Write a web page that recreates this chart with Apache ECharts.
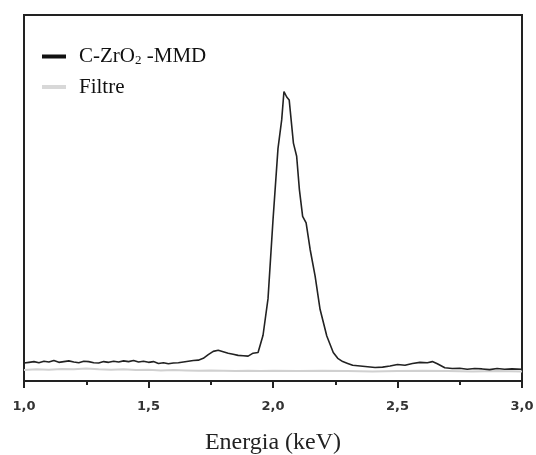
<!DOCTYPE html>
<html>
<head>
<meta charset="utf-8">
<script src="https://cdn.jsdelivr.net/npm/echarts@6/dist/echarts.min.js"></script>
<style>
  html, body { margin: 0; padding: 0; background: #fff; }
  #chart { width: 536px; height: 455px; }
</style>
</head>
<body>
<div id="chart"></div>
<script>
// energia (keV) e intensità (unità arbitrarie)
var sampleEnergy = [
  1.00, 1.02, 1.04, 1.06, 1.08, 1.10, 1.12, 1.14, 1.16, 1.18,
  1.20, 1.22, 1.24, 1.26, 1.28, 1.30, 1.32, 1.34, 1.36, 1.38,
  1.40, 1.42, 1.44, 1.46, 1.48, 1.50, 1.52, 1.54, 1.56, 1.58,
  1.60, 1.62, 1.64, 1.66, 1.68, 1.70, 1.72, 1.74, 1.76, 1.78,
  1.80, 1.82, 1.84, 1.86, 1.88, 1.90, 1.92, 1.94, 1.96, 1.98,
  2.00, 2.02, 2.035, 2.044, 2.055, 2.065, 2.082, 2.095, 2.106, 2.119,
  2.133, 2.149, 2.169, 2.189, 2.216, 2.242, 2.26, 2.28, 2.30, 2.32,
  2.35, 2.38, 2.41, 2.44, 2.47, 2.50, 2.53, 2.56, 2.59, 2.62,
  2.64, 2.66, 2.69, 2.72, 2.75, 2.78, 2.81, 2.84, 2.87, 2.90,
  2.93, 2.96, 3.00
];
var sampleValue = [
  4.9, 5.1, 5.3, 5.0, 5.4, 5.2, 5.6, 5.1, 5.3, 5.5,
  5.2, 5.0, 5.4, 5.3, 5.0, 4.9, 5.3, 5.1, 5.4, 5.2,
  5.5, 5.3, 5.6, 5.2, 5.4, 5.1, 5.3, 4.8, 5.0, 4.7,
  4.9, 5.0, 5.2, 5.4, 5.6, 5.7, 6.2, 7.2, 8.1, 8.4,
  8.0, 7.6, 7.3, 7.0, 6.9, 6.8, 7.6, 7.8, 12.5, 22.5,
  44.0, 63.5, 71.4, 79.1, 77.6, 76.8, 65.0, 61.4, 52.3, 45.0,
  43.2, 36.0, 28.7, 19.6, 12.3, 7.8, 6.2, 5.3, 4.8, 4.3,
  4.1, 3.9, 3.7, 3.8, 4.1, 4.5, 4.3, 4.8, 5.1, 5.0,
  5.3, 4.7, 3.6, 3.4, 3.5, 3.2, 3.4, 3.3, 3.1, 3.4,
  3.2, 3.3, 3.2
];
var filterEnergy = [1.00, 1.05, 1.10, 1.15, 1.20, 1.25, 1.30, 1.35, 1.40, 1.45,
  1.50, 1.55, 1.60, 1.65, 1.70, 1.75, 1.80, 1.85, 1.90, 1.95,
  2.00, 2.10, 2.20, 2.30, 2.40, 2.50, 2.60, 2.70, 2.80, 2.90, 3.00];
var filterValue = [3.0, 3.2, 3.1, 3.3, 3.2, 3.4, 3.2, 3.1, 3.2, 3.0,
  3.1, 2.9, 3.0, 2.9, 2.8, 2.9, 2.8, 2.7, 2.8, 2.7,
  2.8, 2.7, 2.8, 2.7, 2.6, 2.7, 2.8, 2.7, 2.6, 2.7, 2.6];
var seriesNames = ['C-ZrO2-MMD', 'Filtre'];

function pairs(xs, ys) {
  return xs.map(function (x, i) { return [x, ys[i]]; });
}

var chart = echarts.init(document.getElementById('chart'), null, { renderer: 'canvas' });

var option = {
  animation: false,
  backgroundColor: '#fff',
  grid: {
    left: 24, right: 14, top: 15, bottom: 74,
    outerBoundsMode: 'none',
    containLabel: false,
    show: true, borderColor: '#222', borderWidth: 2
  },
  legend: {
    orient: 'vertical',
    left: 42, top: 46,
    padding: 0,
    itemWidth: 24, itemHeight: 4, itemGap: 9,
    icon: 'rect',
    data: seriesNames,
    formatter: function (name) {
      return name === 'C-ZrO2-MMD' ? 'C-ZrO{sub|2} -MMD' : name;
    },
    textStyle: {
      fontFamily: 'Liberation Serif', fontSize: 21, color: '#111',
      padding: [0, 0, 0, 8],
      rich: {
        sub: { fontFamily: 'Liberation Serif', fontSize: 13, color: '#111', verticalAlign: 'bottom', padding: [9, 0, 0, 0] }
      }
    }
  },
  xAxis: {
    type: 'value',
    min: 1, max: 3, interval: 0.5,
    name: 'Energia (keV)',
    nameLocation: 'middle',
    nameGap: 50,
    nameTextStyle: { fontFamily: 'Liberation Serif', fontSize: 24, color: '#222' },
    axisLine: { lineStyle: { color: '#222', width: 2 } },
    axisTick: { length: 7, lineStyle: { color: '#222', width: 2 } },
    minorTick: { show: true, splitNumber: 2, length: 4, lineStyle: { color: '#222', width: 2 } },
    splitLine: { show: false },
    axisLabel: {
      margin: 19,
      fontFamily: 'DejaVu Sans', fontWeight: 'bold', fontSize: 13, color: '#333',
      formatter: function (v) { return v.toFixed(1).replace('.', ','); }
    }
  },
  yAxis: {
    type: 'value',
    min: 0, max: 100,
    axisLine: { show: false },
    axisTick: { show: false },
    axisLabel: { show: false },
    splitLine: { show: false }
  },
  series: [
    {
      name: seriesNames[0],
      type: 'line',
      data: pairs(sampleEnergy, sampleValue),
      showSymbol: false,
      z: 3,
      color: '#111',
      lineStyle: { color: '#222', width: 1.6 }
    },
    {
      name: seriesNames[1],
      type: 'line',
      data: pairs(filterEnergy, filterValue),
      showSymbol: false,
      z: 2,
      color: '#d8d8d8',
      lineStyle: { color: '#d0d0d0', width: 2 }
    }
  ]
};
chart.setOption(option);
</script>
</body>
</html>
